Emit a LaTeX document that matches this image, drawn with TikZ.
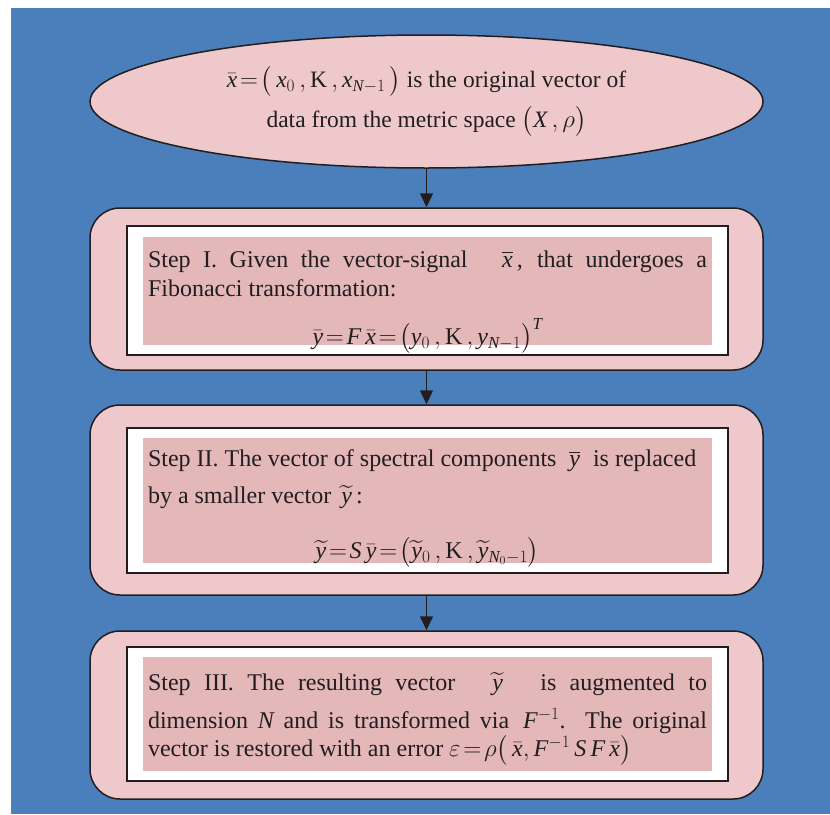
\documentclass[tikz,border=0pt]{standalone}
\usepackage{amsmath}
\usepackage{fontspec}
\setmainfont{Liberation Serif}
\usetikzlibrary{arrows.meta,shapes.geometric,positioning}

% italic math letters taken from the text face
\DeclareSymbolFont{serifletters}{TU}{\rmdefault}{m}{it}
\DeclareMathSymbol{x}{\mathalpha}{serifletters}{`x}
\DeclareMathSymbol{y}{\mathalpha}{serifletters}{`y}
\DeclareMathSymbol{N}{\mathalpha}{serifletters}{`N}
\DeclareMathSymbol{X}{\mathalpha}{serifletters}{`X}
\DeclareMathSymbol{F}{\mathalpha}{serifletters}{`F}
\DeclareMathSymbol{S}{\mathalpha}{serifletters}{`S}
\DeclareMathSymbol{T}{\mathalpha}{serifletters}{`T}

\definecolor{panelblue}{RGB}{74,127,188}
\definecolor{rosepaper}{RGB}{238,200,203}
\definecolor{roseinner}{RGB}{228,183,184}
\definecolor{inkgray}{RGB}{34,30,31}

% centred formula closing a step description
\newcommand{\formulaline}[2][14pt]{\par\vspace{#1}{\centering$#2$\par}}
\newcommand{\eqs}{\mskip2mu{=}\mskip2mu}

\begin{document}
\begin{tikzpicture}[x=1pt,y=-1pt,
	every node/.style={font=\fontsize{23.5}{31}\selectfont,text=inkgray},
	outerbox/.style={draw=inkgray,line width=1.5pt,fill=rosepaper,rounded corners=30pt,minimum width=673pt,inner sep=0pt},
	framebox/.style={draw=inkgray,line width=1.5pt,fill=white,minimum width=601pt,inner sep=0pt},
	textbox/.style={fill=roseinner,minimum width=569pt,text width=559pt,inner xsep=5pt,inner ysep=0pt,align=justify},
	flow/.style={draw=inkgray,line width=1.5pt,-{Triangle[length=14pt,width=13pt]}}]

	% page and panel
	\fill[white] (0,0) rectangle (830,814);
	\fill[panelblue] (11,8) rectangle (830,814);

	% input vector
	\node (vec) [ellipse,draw=inkgray,line width=1.5pt,fill=rosepaper,minimum width=673pt,minimum height=133pt,inner sep=0pt,align=center] at (426.5,101.5)
		{$\bar{x}\eqs\bigl(\,x_0\,,\mathrm{K}\,,x_{N-1}\,\bigr)$ is the original vector of\\[9pt]
		data from the metric space $\bigl(X\,,\rho\bigr)$};

	% step I
	\node (s1) [outerbox,minimum height=162pt] at (426.5,289) {};
	\node (s1frame) [framebox,minimum height=129pt] at (427.5,290.5) {};
	\node (s1text) [textbox,minimum height=108pt] at (427.5,291)
		{\fontsize{24}{29}\selectfont Step I. Given the vector-signal $\;\overline{x}\,$, that undergoes a\linebreak Fibonacci transformation:
		\formulaline[19pt]{\bar{y}\eqs F\,\bar{x}\eqs\bigl(y_0\,,\mathrm{K}\,,y_{N-1}\bigr)^{T}}\vspace*{-22pt}};

	% step II
	\node (s2) [outerbox,minimum height=190pt] at (426.5,500) {};
	\node (s2frame) [framebox,minimum height=145pt] at (427.5,500.5) {};
	\node (s2text) [textbox,minimum height=125pt] at (427.5,500.5)
		{\fontsize{24}{37}\selectfont Step II. The vector of spectral components $\;\overline{y}\;$ is replaced\\ by a smaller vector $\,\widetilde{y}$\,:
		\formulaline[18pt]{\widetilde{y}\eqs S\,\bar{y}\eqs\bigl(\widetilde{y}_0\,,\mathrm{K}\,,\widetilde{y}_{N_0-1}\bigr)}\vspace*{-16pt}};

	% step III
	\node (s3) [outerbox,minimum height=168pt] at (426.5,715) {};
	\node (s3frame) [framebox,minimum height=134pt] at (427.5,714) {};
	\node (s3text) [textbox,minimum height=114pt] at (427.5,714)
		{\fontsize{24}{28}\selectfont\lineskiplimit=-12pt Step III. The resulting vector $\;\widetilde{y}\;$ is augmented to\vadjust{\vskip 10pt}\linebreak dimension $N$ and is transformed via $\,F^{-1}$. The original\linebreak vector is restored with an error $\varepsilon\eqs\rho\bigl(\,\bar{x},F^{-1}\,S\,F\,\bar{x}\bigr)$\par\vspace*{-10pt}};

	% flow between the stages
	\draw[flow] (vec.south) -- (s1.north);
	\draw[flow] (s1.south) -- (s2.north);
	\draw[flow] (s2.south) -- (s3.north);
\end{tikzpicture}
\end{document}
